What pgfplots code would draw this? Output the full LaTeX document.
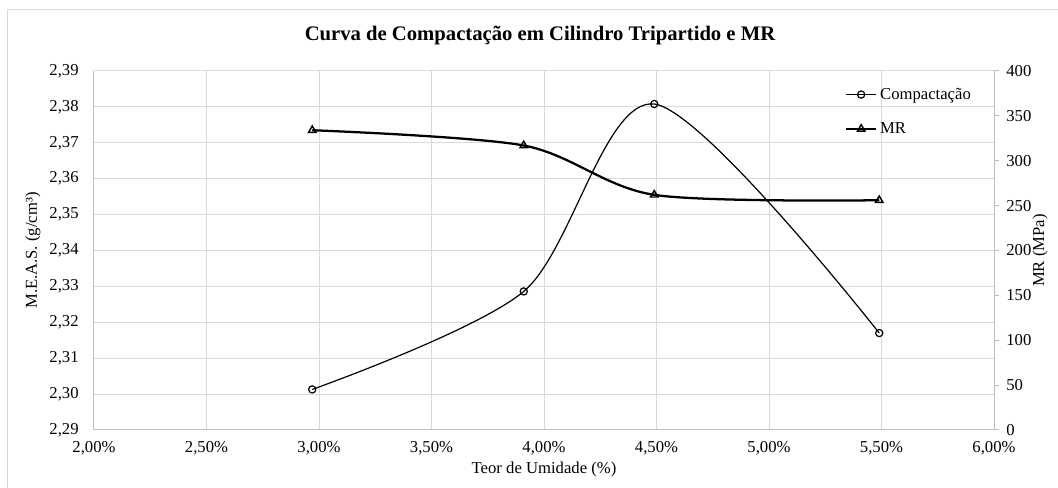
\documentclass[border=0pt]{standalone}
\usepackage{fontspec}
\setmainfont{Liberation Serif}
\usepackage{pgfplots}
\pgfplotsset{compat=1.18}
\definecolor{gridgray}{HTML}{D9D9D9}
\definecolor{axisgray}{HTML}{BFBFBF}

\pgfplotsset{
  excelline/.style={
    legend image code/.code={
      \draw[mark repeat=2,mark phase=2,##1] plot coordinates {(0cm,0cm) (0.4cm,0cm) (0.8cm,0cm)};
    }
  },
  compstyle/.style={black, line width=0.9pt, smooth, mark=o, mark size=2.7pt,
    mark options={solid, fill=white, line width=0.9pt}},
  mrstyle/.style={black, line width=1.7pt, smooth, mark=triangle, mark size=3.2pt,
    mark options={solid, fill=white, line width=1.1pt}},
}

\begin{document}
\begin{tikzpicture}[font=\fontsize{12.5}{15}\selectfont]
\useasboundingbox (-70.5pt,-43.5pt) rectangle (723pt,322.5pt);
\draw[gridgray, line width=0.75pt] (-64.5pt,-43.5pt) -- (-64.5pt,315pt) -- (723pt,315pt);

\node[font=\bfseries\fontsize{15.5}{18}\selectfont] at (334.5pt,295.5pt) {Curva de Compactação em Cilindro Tripartido e MR};
\node[rotate=90] at (-45.75pt,134.6pt) {M.E.A.S. (g/cm³)};
\node[rotate=90] at (709.5pt,134.6pt) {MR (MPa)};
\node at (337.5pt,-29.5pt) {Teor de Umidade (\%)};

\begin{axis}[
  scale only axis, width=675pt, height=269.25pt,
  at={(0pt,0pt)}, anchor=south west,
  xmin=2, xmax=6, ymin=2.29, ymax=2.39,
  xtick={2,2.5,3,3.5,4,4.5,5,5.5,6},
  ytick={2.29,2.30,2.31,2.32,2.33,2.34,2.35,2.36,2.37,2.38,2.39},
  xticklabel={\pgfmathprintnumber[fixed,fixed zerofill,precision=2,use comma]{\tick}\%},
  yticklabel={\pgfmathprintnumber[fixed,fixed zerofill,precision=2,use comma]{\tick}},
  /pgf/number format/assume math mode=true,
  grid=major, major grid style={gridgray, line width=0.75pt},
  axis line style={axisgray, line width=0.75pt},
  axis x line*=bottom, axis y line*=left,
  major tick length=0pt,
  yticklabel style={xshift=-8pt},
  xticklabel style={yshift=-5pt},
  clip=false,
]
\addplot[compstyle] coordinates {(2.97,2.3013) (3.91,2.3286) (4.49,2.3808) (5.49,2.3170)};
\end{axis}

\begin{axis}[
  scale only axis, width=675pt, height=269.25pt,
  at={(0pt,0pt)}, anchor=south west,
  xmin=2, xmax=6, ymin=0, ymax=400,
  axis x line=none, axis y line*=right,
  ytick={0,50,100,150,200,250,300,350,400},
  /pgf/number format/assume math mode=true,
  axis line style={axisgray, line width=0.75pt},
  tick style={axisgray, line width=0.75pt},
  major tick length=3.75pt, tick align=outside,
  yticklabel style={xshift=2pt},
  legend style={draw=none, fill=none, at={(0.834,0.961)}, anchor=north west,
    row sep=12pt, inner sep=0pt, font=\fontsize{12.5}{15}\selectfont},
  legend cell align=left,
  clip=false,
]
\addlegendimage{compstyle, excelline}
\addlegendentry{Compactação}
\addplot[mrstyle, excelline] coordinates {(2.97,334) (3.91,317) (4.49,262) (5.49,256)};
\addlegendentry{MR}
\end{axis}
\end{tikzpicture}
\end{document}
